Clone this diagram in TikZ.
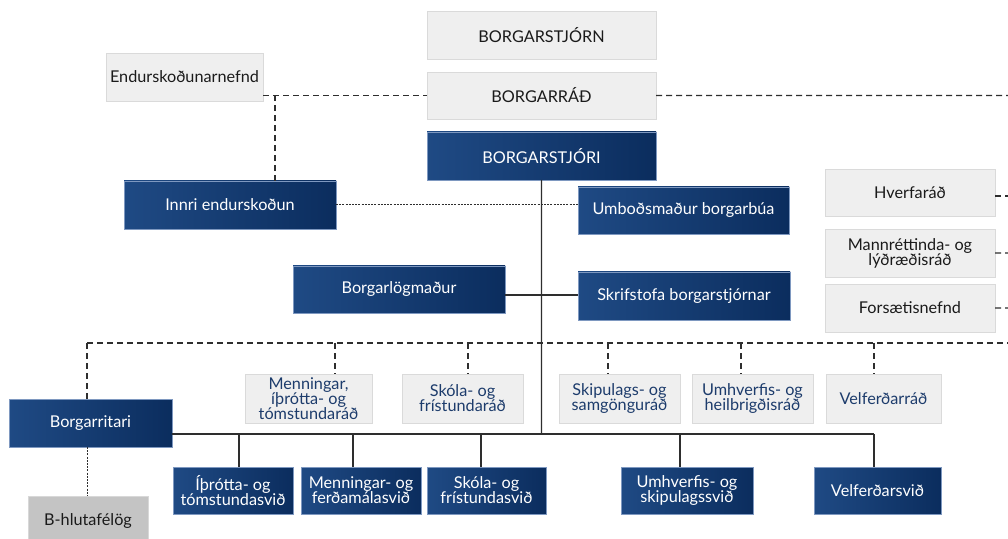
\documentclass[tikz,border=0pt]{standalone}
\usepackage{fontspec}
\setmainfont{Lato}
\definecolor{boxgray}{HTML}{EFEFEF}
\definecolor{edgegray}{HTML}{DADADA}
\definecolor{hgray}{HTML}{C4C4C4}
\definecolor{hedge}{HTML}{D8D8D8}
\definecolor{txtblack}{HTML}{1A1A1A}
\definecolor{txtblue}{HTML}{1D3C6C}
\definecolor{blueA}{HTML}{1F4A84}
\definecolor{blueM}{HTML}{0F3468}
\definecolor{blueB}{HTML}{0B2D5E}
\definecolor{blueedge}{HTML}{7E98C0}
\definecolor{linegray}{HTML}{2E2E2E}
\begin{document}
\begin{tikzpicture}[x=1bp,y=-1bp]
\tikzset{
 base/.style={anchor=north west, inner sep=0pt, outer sep=0pt, align=center,
   font=\fontsize{16.3}{15}\selectfont},
 gbox/.style={base, fill=boxgray, draw=edgegray, line width=0.8bp, text=txtblack},
 rbox/.style={gbox, text=txtblue},
 bbox/.style={base, left color=blueA, middle color=blueM, right color=blueB, draw=blueedge, line width=0.8bp, text=white},
 hbox/.style={base, fill=hgray, draw=hedge, line width=0.8bp, text=txtblack},
 solidline/.style={draw=linegray, line width=1.4bp},
 dashline/.style={draw=linegray, line width=1.3bp, dash pattern=on 6bp off 4bp},
 dotline/.style={draw=linegray, line width=1bp, dash pattern=on 2bp off 1.2bp},
}
\useasboundingbox[fill=white] (0,0) rectangle (1008,539);

% top column
\node[gbox, minimum width=229bp, minimum height=48bp] (stjorn) at (427,11) {BORGARSTJÓRN};
\node[gbox, minimum width=229bp, minimum height=47bp] (radd) at (427,72) {BORGARRÁÐ};
\node[bbox, minimum width=229bp, minimum height=48bp] (stjori) at (427,132) {BORGARSTJÓRI};
\node[gbox, minimum width=157bp, minimum height=48bp] (endnef) at (106,53) {Endurskoðunarnefnd};
\node[bbox, minimum width=212bp, minimum height=48bp] (innri) at (124,181) {Innri endurskoðun};
\node[bbox, minimum width=211bp, minimum height=47bp] (umbod) at (578,187) {Umboðsmaður borgarbúa};
\node[bbox, minimum width=212bp, minimum height=47bp] (loeg) at (293,266) {Borgarlögmaður};
\node[bbox, minimum width=212bp, minimum height=48bp] (skrif) at (578,272) {Skrifstofa borgarstjórnar};

% right column
\node[gbox, minimum width=170bp, minimum height=47bp] (hverf) at (825,169) {Hverfaráð};
\node[gbox, minimum width=170bp, minimum height=48bp] (mann) at (825,229) {Mannréttinda- og\\lýðræðisráð};
\node[gbox, minimum width=170bp, minimum height=48bp] (fors) at (825,284) {Forsætisnefnd};

% councils
\node[rbox, minimum width=127bp, minimum height=49bp] (rmenn) at (245,374) {Menningar,\\íþrótta- og\\tómstundaráð};
\node[rbox, minimum width=121bp, minimum height=49bp] (rskola) at (402,374) {Skóla- og\\frístundaráð};
\node[rbox, minimum width=121bp, minimum height=49bp] (rskip) at (559,374) {Skipulags- og\\samgönguráð};
\node[rbox, minimum width=121bp, minimum height=49bp] (rumhv) at (692,374) {Umhverfis- og\\heilbrigðisráð};
\node[rbox, minimum width=115bp, minimum height=49bp] (rvelf) at (826,374) {Velferðarráð};

% borgarritari and departments
\node[bbox, minimum width=163bp, minimum height=48bp] (ritari) at (9,399) {Borgarritari};
\node[hbox, minimum width=120bp, minimum height=50bp] (bhluta) at (28,496) {B-hlutafélög};
\node[bbox, minimum width=120bp, minimum height=47bp] (sithr) at (173,467) {Íþrótta- og\\tómstundasvið};
\node[bbox, minimum width=120bp, minimum height=47bp] (smenn) at (301,467) {Menningar- og\\ferðamálasvið};
\node[bbox, minimum width=119bp, minimum height=47bp] (sskola) at (427,467) {Skóla- og\\frístundasvið};
\node[bbox, minimum width=132bp, minimum height=47bp] (sumhv) at (621,467) {Umhverfis- og\\skipulagssvið};
\node[bbox, minimum width=127bp, minimum height=47bp] (svelf) at (814,467) {Velferðarsvið};

% coordinates
\coordinate (k1) at (275,95.5);
\coordinate (re1) at (1008,95.5);
\coordinate (reH) at (1008,196);
\coordinate (reM) at (1008,253);
\coordinate (reF) at (1008,308);
\coordinate (d0) at (87,343);
\coordinate (dE) at (1008,343);
\coordinate (dm) at (335,343);
\coordinate (ds) at (468,343);
\coordinate (dk) at (608,343);
\coordinate (du) at (741,343);
\coordinate (dv) at (874,343);
\coordinate (bus) at (541.5,434);
\coordinate (bE) at (874,434);
\coordinate (v1) at (239,434);
\coordinate (v2) at (353,434);
\coordinate (v3) at (481,434);
\coordinate (v4) at (680,434);
\coordinate (ld) at (87,447);

% solid lines
\draw[solidline] (stjori.south) -- (bus);
\draw[solidline] (ritari.east |- bus) -- (bE);
\draw[solidline] (bE) -- (bE |- svelf.north);
\draw[solidline] (v1) -- (v1 |- sithr.north);
\draw[solidline] (v2) -- (v2 |- smenn.north);
\draw[solidline] (v3) -- (v3 |- sskola.north);
\draw[solidline] (v4) -- (v4 |- sumhv.north);
\draw[solidline] (loeg.east |- 0,295) -- (skrif.west |- 0,295);

% dashed lines
\draw[dashline] (endnef.east |- radd) -- (radd.west);
\draw[dashline] (k1) -- (k1 |- innri.north);
\draw[dashline] (radd.east) -- (re1);
\draw[dashline] (hverf.east |- reH) -- (reH);
\draw[dashline] (mann.east) -- (reM);
\draw[dashline] (fors.east) -- (reF);
\draw[dashline] (d0) -- (dE);
\draw[dashline] (d0) -- (d0 |- ritari.north);
\draw[dashline] (dm) -- (dm |- rmenn.north);
\draw[dashline] (ds) -- (ds |- rskola.north);
\draw[dashline] (dk) -- (dk |- rskip.north);
\draw[dashline] (du) -- (du |- rumhv.north);
\draw[dashline] (dv) -- (dv |- rvelf.north);

% dotted lines
\draw[dotline] (innri.east) -- (innri.east -| umbod.west);
\draw[dotline] (ld) -- (ld |- bhluta.north);
\end{tikzpicture}
\end{document}
